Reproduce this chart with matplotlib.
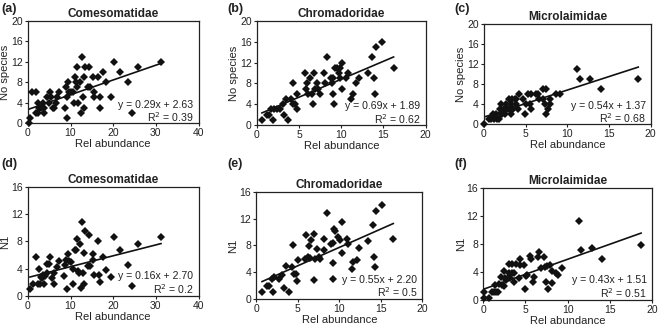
import matplotlib
matplotlib.use("Agg")
import matplotlib.pyplot as plt
import numpy as np

plt.rcParams['font.family'] = ['Liberation Sans', 'DejaVu Sans']

# ---------------------------------------------------------------------------
# data

# (a) Comesomatidae - No species
x_a = [0.2, 0.6, 1, 2, 2, 2.5, 2.5, 2.7, 3.2, 3.5, 3.9, 3.9, 4.4, 5, 5.2, 5.5, 5.8, 6.2,
       6.5, 6.8, 7.4, 8.6, 9, 9.1, 9.2, 9.5, 9.7, 10.1, 10.5, 10.9, 11.1, 11.4, 11.5, 11.6,
       11.8, 12.3, 12.5, 12.6, 12.9, 13.2, 13.2, 13.5, 14.3, 14, 14.6, 15.2, 15.4, 15.6,
       16.4, 16.8, 16.9, 17.7, 18.2, 19.6, 20.1, 21.6, 23.4, 24.3, 25.8, 31.2]
y_a = [0, 1, 6, 6, 2, 2, 4, 3, 3, 4, 2, 3, 5, 4, 6, 5, 3, 3,
       4, 5, 6, 3, 7, 1, 5, 8, 6, 6, 6, 4, 9, 8, 11, 7,
       4, 8, 2, 13, 5, 9, 3, 11, 11, 7, 7, 9, 6, 5,
       9, 5, 3, 10, 8, 5, 12, 10, 8, 2, 11, 12]

# (b) Chromadoridae - No species
x_b = [0.6, 1.2, 1.4, 1.7, 1.9, 2, 2.4, 2.7, 3.1, 3.2, 3.5, 3.7, 4.1, 4.3, 4.3, 4.5, 4.7,
       4.8, 5.7, 5.8, 5.9, 6.1, 6.3, 6.5, 6.6, 6.8, 6.9, 7.1, 7.3, 7.5, 8, 8.1, 8.3, 8.8,
       8.9, 9, 9, 9.1, 9.2, 9.5, 9.7, 9.9, 9.9, 10.1, 10.1, 10.6, 10.8, 11.2, 11.4, 11.8,
       12.1, 13.2, 13.7, 13.9, 14, 14.1, 14.8, 16.2]
y_b = [1, 2, 2, 3, 1, 3, 3, 3, 4, 2, 5, 1, 5, 8, 4, 4, 3,
       6, 10, 7, 8, 6, 9, 6, 4, 10, 7, 8, 7, 6, 10, 8, 13, 9,
       8, 9, 6, 4, 11, 11, 10, 9, 11, 12, 7, 9, 10, 5, 6, 8,
       9, 10, 13, 9, 6, 15, 16, 11]

# (c) Microlaimidae - No species
x_c = [0, 0.6, 0.9, 1.1, 1.2, 1.4, 1.6, 1.8, 1.9, 2, 2.1, 2.2, 2.4, 2.5, 2.6, 2.7, 2.8,
       3, 3, 3.2, 3.3, 3.4, 3.5, 3.7, 3.8, 3.9, 4.1, 4.2, 4.7, 4.9, 5, 5.3, 5.5, 5.7,
       5.7, 6.3, 6.5, 6.6, 7.1, 7.1, 7.3, 7.5, 7.5, 7.7, 7.9, 7.9, 8.6, 9.1, 11.1, 11.5,
       12.7, 14, 18.5]
y_c = [0, 1, 1, 2, 1, 2, 1, 1, 3, 2, 4, 2, 3, 2, 3, 4, 3,
       5, 3, 4, 2, 5, 3, 5, 4, 5, 3, 6, 5, 2, 4, 6, 4, 3,
       6, 6, 6, 5, 7, 5, 4, 2, 7, 3, 5, 4, 6, 6, 11, 9,
       9, 7, 9]

# (d) Comesomatidae - N1
x_d = [0.5, 1.1, 2, 2.5, 2.6, 2.8, 3, 3.3, 3.5, 3.9, 4, 4.4, 4.5, 5, 5.3, 5.7, 6.1, 6.2,
       6.8, 7.4, 8.4, 8.7, 9, 9.1, 9.4, 9.7, 10.2, 10.7, 10.7, 11, 11.3, 11.5, 11.7, 11.9,
       12.3, 12.5, 12.6, 13, 13.1, 13.2, 13.5, 14.3, 14, 14.6, 15.2, 15.2, 15.5, 16.4,
       16.6, 16.8, 17.7, 18.2, 19.6, 20.1, 21.6, 23.4, 24.3, 25.8, 31.2]
y_d = [1.0, 1.8, 5.7, 1.8, 4.0, 1.7, 2.8, 2.6, 3.1, 1.8, 2.9, 3.3, 4.7, 4.7, 5.7, 2.6, 1.8, 3.4,
       4.2, 5.2, 3.0, 4.5, 5.3, 1.0, 6.2, 5.2, 5.0, 4.0, 1.7, 6.7, 6.8, 8.4, 3.7, 3.4,
       7.6, 1.1, 10.8, 3.3, 6.3, 1.7, 9.6, 8.9, 4.4, 4.4, 5.3, 6.1, 3.1, 8.1,
       3.1, 2.1, 5.7, 3.8, 2.8, 8.6, 6.7, 4.5, 1.5, 7.7, 8.7]

# (e) Chromadoridae - N1
x_e = [0.7, 1.3, 1.5, 1.9, 2, 2.2, 2.7, 3.1, 3.3, 3.6, 3.9, 4.3, 4.4, 4.6, 4.8, 4.9, 5,
       5.9, 6, 6.2, 6.4, 6.5, 6.6, 6.9, 7, 7.1, 7.3, 7.5, 7.7, 8.2, 8.2, 8.5, 9, 9.2,
       9.2, 9.3, 9.4, 9.5, 9.8, 10.1, 10.3, 10.3, 10.9, 11, 11.5, 11.7, 12.1, 12.4, 13.5,
       14, 14.2, 14.3, 14.4, 15.1, 16.5]
y_e = [1.0, 2.0, 2.0, 3.0, 1.0, 3.2, 3.0, 3.6, 1.7, 4.9, 1.0, 4.8, 8.1, 3.7, 3.7, 2.7, 5.8,
       5.9, 9.6, 6.3, 7.9, 6.1, 8.8, 2.8, 9.7, 6.0, 7.5, 6.3, 6.0, 7.3, 8.9, 12.8, 8.2, 8.4,
       5.4, 2.9, 10.5, 10.1, 9.3, 8.8, 6.8, 11.5, 8.9, 8.2, 4.5, 5.5, 5.8, 7.6, 8.6,
       11.0, 6.3, 4.8, 13.2, 14.0, 8.9]

# (f) Microlaimidae - N1
x_f = [0.1, 0.1, 0.7, 1, 1.3, 1.4, 1.5, 1.8, 1.9, 2.1, 2.2, 2.4, 2.4, 2.6, 2.7, 2.9, 3,
       3.1, 3.2, 3.4, 3.4, 3.6, 3.6, 3.9, 4.2, 4.3, 4.4, 4.8, 4.9, 5.1, 5.2, 5.5, 5.7,
       5.9, 6, 6.5, 6.6, 6.8, 7.2, 7.3, 7.4, 7.6, 7.7, 7.9, 8.1, 8.1, 8.6, 8.8, 9.3,
       11.3, 11.6, 12.9, 14.1, 18.7]
y_f = [1.1, 0.2, 0.2, 1.1, 1.1, 2.1, 1.1, 1.1, 2.2, 3.2, 2.1, 4.1, 2.0, 3.1, 2.8, 3.1, 3.9,
       5.1, 3.1, 3.9, 5.1, 2.6, 3.9, 5.1, 3.1, 5.0, 5.8, 5.0, 1.6, 3.4, 3.5, 6.3, 5.8,
       2.6, 3.3, 6.2, 6.8, 4.5, 6.2, 4.7, 2.6, 4.8, 1.5, 5.0, 4.1, 2.4, 3.8, 3.5, 4.6,
       11.3, 7.2, 7.4, 5.9, 7.9]

labels = ['(a)', '(b)', '(c)', '(d)', '(e)', '(f)']
titles = ['Comesomatidae', 'Chromadoridae', 'Microlaimidae'] * 2
ylabels = ['No species'] * 3 + ['N1'] * 3
slopes = [0.29, 0.69, 0.54, 0.16, 0.55, 0.43]
intercepts = [2.63, 1.89, 1.37, 2.70, 2.20, 1.51]
eq_texts = ['y = 0.29x + 2.63', 'y = 0.69x + 1.89', 'y = 0.54x + 1.37',
            'y = 0.16x + 2.70', 'y = 0.55x + 2.20', 'y = 0.43x + 1.51']
r2_texts = ['R$^2$ = 0.39', 'R$^2$ = 0.62', 'R$^2$ = 0.68',
            'R$^2$ = 0.2', 'R$^2$ = 0.5', 'R$^2$ = 0.51']
xmax = [40, 20, 20, 40, 20, 20]
ymax = [20, 20, 20, 16, 16, 16]

xs = [x_a, x_b, x_c, x_d, x_e, x_f]
ys = [y_a, y_b, y_c, y_d, y_e, y_f]

# axes rectangles in figure fraction [left, bottom, width, height]
rects = [[0.042, 0.624, 0.258, 0.312],
         [0.388, 0.618, 0.255, 0.318],
         [0.731, 0.621, 0.252, 0.306],
         [0.042, 0.095, 0.258, 0.333],
         [0.387, 0.086, 0.251, 0.327],
         [0.730, 0.083, 0.255, 0.342]]

fig = plt.figure(figsize=(6.62, 3.27), dpi=100)

for i in range(6):
    ax = fig.add_axes(rects[i])
    x = np.array(xs[i])
    y = np.array(ys[i])
    ax.plot(x, y, linestyle='none', marker='D', markersize=3.7,
            color='#111111', markeredgewidth=0, clip_on=False, zorder=3)
    xl = np.array([x.min(), x.max()])
    ax.plot(xl, slopes[i] * xl + intercepts[i], color='#111111', lw=1.2)

    ax.set_xlim(0, xmax[i])
    ax.set_ylim(0, ymax[i])
    ax.set_xticks(np.linspace(0, xmax[i], 5))
    ax.set_yticks(np.arange(0, ymax[i] + 1, 4))
    ax.tick_params(direction='out', length=2.5, width=0.8, labelsize=7.5, pad=1.2, colors='#222222')
    for sp in ax.spines.values():
        sp.set_linewidth(0.9)
        sp.set_color('#222222')

    ax.set_xlabel('Rel abundance', fontsize=8, labelpad=0.5, color='#222222')
    ax.set_ylabel(ylabels[i], fontsize=8, labelpad=0.5, color='#222222')
    ax.set_title(titles[i], fontsize=8.5, fontweight='bold', pad=3, color='#222222')

    ax.text(0.97, 0.18, eq_texts[i], transform=ax.transAxes, ha='right', va='center',
            fontsize=7.6, color='#222222')
    ax.text(0.97, 0.06, r2_texts[i], transform=ax.transAxes, ha='right', va='center',
            fontsize=7.6, color='#222222')

# panel letters
label_pos = [(0.002, 0.972), (0.343, 0.972), (0.687, 0.972),
             (0.002, 0.497), (0.343, 0.497), (0.687, 0.497)]
for lab, (px, py) in zip(labels, label_pos):
    fig.text(px, py, lab, fontsize=9, fontweight='bold', ha='left', va='center', color='#222222')

fig.savefig('out.png', dpi=100)
